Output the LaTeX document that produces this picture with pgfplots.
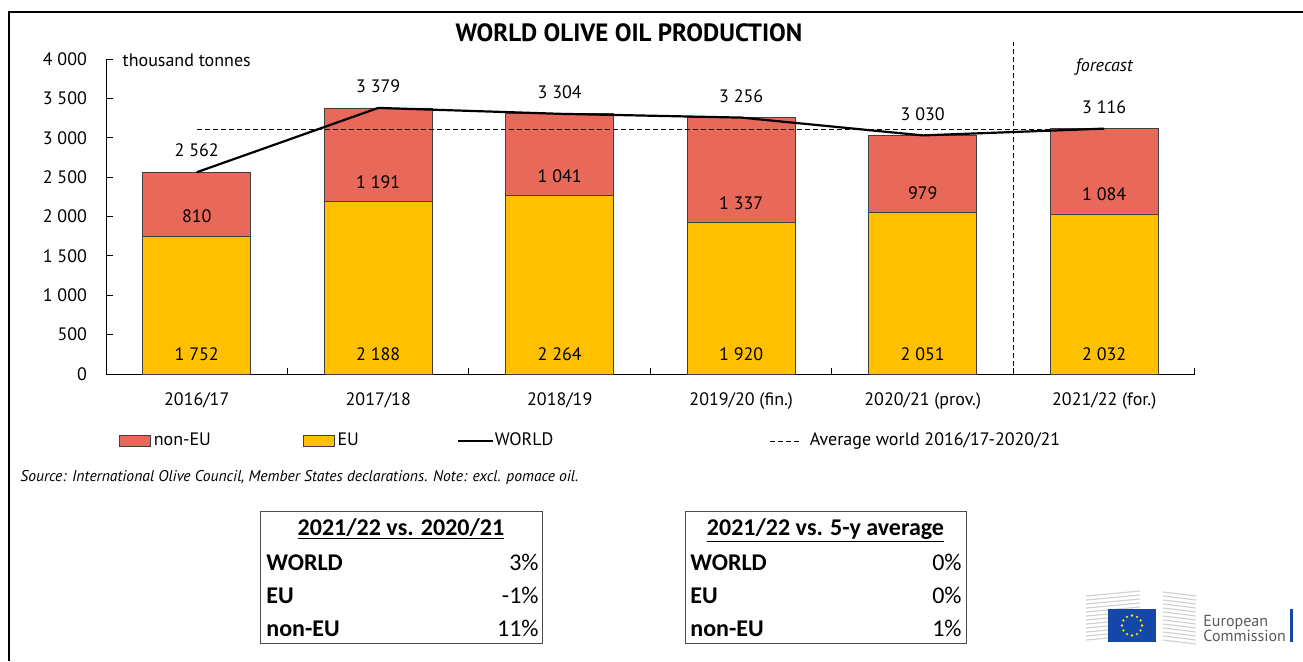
\documentclass[border=0pt]{standalone}
\usepackage{fontspec}
\setmainfont{PT Sans}
\newfontfamily\tabfont{Carlito}
\usepackage{pgfplots}
\usepackage{pgfplotstable}
\pgfplotsset{compat=1.18}

\definecolor{noneu}{HTML}{E8695A}
\definecolor{eu}{HTML}{FFC000}
\definecolor{eublue}{HTML}{1447A8}
\definecolor{logogray}{HTML}{5A5A5A}

\pgfplotstableread{
x total eu noneu eulab noneulab
0 2562 1752 810  250 2002
1 3379 2188 1191 250 2438
2 3304 2264 1041 250 2514
3 3256 1920 1337 250 2170
4 3030 2051 979  250 2301
5 3116 2032 1084 250 2282
}\data

\newcommand{\lblfont}{\fontsize{9}{11}\selectfont}

\begin{document}
\begin{tikzpicture}
\useasboundingbox (0,0) rectangle (651.5pt,330.5pt);
\begin{axis}[
  at={(53pt,143.5pt)}, anchor=south west,
  scale only axis, width=544.5pt, height=157.5pt,
  xmin=-0.5, xmax=5.5, ymin=0, ymax=4000,
  axis lines=left, axis line style={-, black, line width=0.5pt},
  tick align=inside,
  xtick={0,...,5},
  xticklabels={2016/17,2017/18,2018/19,2019/20 (fin.),2020/21 (prov.),2021/22 (for.)},
  major x tick style={draw=none},
  minor xtick={0.5,1.5,2.5,3.5,4.5,5.5},
  minor tick length=3pt,
  ytick={0,500,...,4000}, major tick length=3.5pt,
  tick style={black, line width=0.5pt},
  /pgf/number format/assume math mode=true,
  /pgf/number format/1000 sep={\ },
  ticklabel style={font=\lblfont},
  xticklabel style={yshift=-6pt},
  yticklabel style={xshift=-6pt},
  clip=false,
  legend columns=4,
  legend cell align=left,
  legend style={at={(axis description cs:0.0119,-0.2127)}, anchor=west,
    draw=none, fill=none, inner sep=0pt, outer sep=0pt,
    /tikz/every even column/.style={column sep=0pt},
    nodes={inner sep=0pt, font=\lblfont}},
]
\addplot[ybar, bar width=54pt, bar shift=0pt, fill=noneu, draw=black!75, line width=0.4pt,
  nodes near coords, point meta=y,
  nodes near coords style={font=\lblfont, black, yshift=4pt},
  legend image code/.code={\draw[fill=noneu, draw=black!75, line width=0.4pt] (0pt,-2.6pt) rectangle (15.5pt,2.6pt);}]
  table[x=x, y=total] {\data};
\addlegendentry{\makebox[76pt][l]{\hspace{1.5pt}non-EU}}
\addplot[ybar, bar width=54pt, bar shift=0pt, fill=eu, draw=black!75, line width=0.4pt,
  legend image code/.code={\draw[fill=eu, draw=black!75, line width=0.4pt] (0pt,-2.6pt) rectangle (15.5pt,2.6pt);}]
  table[x=x, y=eu] {\data};
\addlegendentry{\makebox[61pt][l]{\hspace{1.5pt}EU}}
\addplot[black, line width=1.1pt, mark=none,
  legend image code/.code={\draw[black, line width=1.1pt] (0pt,0pt) -- (17.5pt,0pt);}]
  table[x=x, y=total] {\data};
\addlegendentry{\makebox[138pt][l]{\hspace{0.5pt}WORLD}}
\addplot[black, line width=0.5pt, mark=none, dash pattern=on 2.5pt off 1.5pt,
  legend image code/.code={\draw[black, line width=0.5pt, dash pattern=on 2.5pt off 1.5pt] (0pt,0pt) -- (16pt,0pt);}]
  coordinates {(0,3106.2) (4.71,3106.2)};
\addlegendentry{\hspace{3.5pt}Average world 2016/17-2020/21}
\addplot[black, line width=0.5pt, mark=none, dash pattern=on 2.5pt off 1.5pt, forget plot]
  coordinates {(4.5,0) (4.5,4210)};
\addplot[draw=none, mark=none, forget plot, nodes near coords, point meta=explicit,
  nodes near coords style={font=\lblfont, black, anchor=center}]
  table[x=x, y=eulab, meta=eu] {\data};
\addplot[draw=none, mark=none, forget plot, nodes near coords, point meta=explicit,
  nodes near coords style={font=\lblfont, black, anchor=center}]
  table[x=x, y=noneulab, meta=noneu] {\data};
\node[anchor=west, font=\lblfont] at (axis cs:-0.447,3987) {thousand tonnes};
\node[font=\lblfont\itshape] at (axis cs:5,3898) {forecast};
\end{axis}

\begin{scope}[x=0.5pt, y=-0.5pt, shift={(0pt,330.5pt)}]
  % frame
  \draw[black, line width=1pt] (9,661) -- (9,12) -- (1303,12);
  % title
  \node[anchor=base, font=\bfseries\fontsize{12.5}{14}\selectfont] at (629,41) {WORLD OLIVE OIL PRODUCTION};
  % source
  \node[anchor=base west, inner sep=0pt, font=\itshape\fontsize{7.8}{9}\selectfont] at (20,481)
    {Source: International Olive Council, Member States declarations. Note: excl. pomace oil.};
  % table 1
  \draw[black!70, line width=0.5pt] (260,511) rectangle (542,643);
  \begin{scope}[every node/.style={inner sep=0pt, font=\tabfont\fontsize{12}{14}\selectfont}]
    \node[anchor=base] at (401,535) {\bfseries\underline{2021/22 vs. 2020/21}};
    \node[anchor=base west] at (266,570) {\bfseries WORLD};
    \node[anchor=base west] at (266,603) {\bfseries EU};
    \node[anchor=base west] at (266,636) {\bfseries non-EU};
    \node[anchor=base east] at (539,570) {3\%};
    \node[anchor=base east] at (539,603) {-1\%};
    \node[anchor=base east] at (539,636) {11\%};
    % table 2
    \node[anchor=base] at (825.5,535) {\bfseries\underline{2021/22 vs. 5-y average}};
    \node[anchor=base west] at (690,570) {\bfseries WORLD};
    \node[anchor=base west] at (690,603) {\bfseries EU};
    \node[anchor=base west] at (690,636) {\bfseries non-EU};
    \node[anchor=base east] at (962,570) {0\%};
    \node[anchor=base east] at (962,603) {0\%};
    \node[anchor=base east] at (962,636) {1\%};
  \end{scope}
  \draw[black!70, line width=0.5pt] (685,511) rectangle (966,643);
  % logo
  \foreach \yy in {596,600,...,640} {
    \draw[black!18, line width=0.6pt] (1086,\yy) -- (1140,\yy-5);
  }
  \foreach \yy in {592,596,...,640} {
    \draw[black!18, line width=0.6pt] (1163,\yy) -- (1196,\yy+4);
  }
  \fill[eublue] (1108,609) rectangle (1156,642);
  \foreach \a in {0,30,...,330} {
    \fill[yellow!90!orange] ({1132+10*cos(\a)},{625.5+10*sin(\a)}) circle (1.3);
  }
  \node[anchor=base west, inner sep=0pt, text=logogray, font=\fontsize{8}{9}\selectfont] at (1203,626) {European};
  \node[anchor=base west, inner sep=0pt, text=logogray, font=\fontsize{8}{9}\selectfont] at (1203,641) {Commission};
  \fill[eublue] (1290,609) rectangle (1293,642);
\end{scope}
\end{tikzpicture}
\end{document}
